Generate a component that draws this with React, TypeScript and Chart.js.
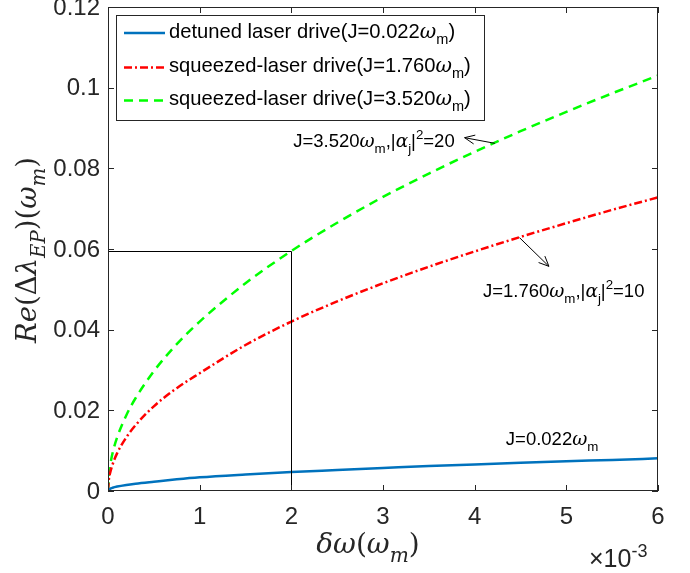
import React, { useEffect, useRef } from 'react';
import { Chart, registerables } from 'chart.js';
Chart.register(...registerables);

// δω in units of 1e-3 ω_m
const xVals = [0, 0.01, 0.02, 0.05, 0.1, 0.2, 0.3, 0.5, 0.75, 1, 1.5, 2, 2.5, 3, 3.5, 4, 4.5, 5, 5.5, 6];
const blueVals = [0, 0.0003, 0.0005, 0.0008, 0.0011, 0.0015, 0.0018, 0.0023, 0.0029, 0.0034, 0.0041, 0.0047, 0.0052, 0.0057, 0.0062, 0.0066, 0.0070, 0.0074, 0.0077, 0.0081];
const redVals = [0, 0.0030, 0.0042, 0.0066, 0.0094, 0.0133, 0.0163, 0.0210, 0.0255, 0.0292, 0.0362, 0.0420, 0.0470, 0.0515, 0.0556, 0.0594, 0.0630, 0.0664, 0.0697, 0.0728];
const greenVals = [0, 0.0042, 0.0059, 0.0094, 0.0133, 0.0188, 0.0230, 0.0297, 0.0364, 0.0420, 0.0515, 0.0595, 0.0665, 0.0729, 0.0787, 0.0841, 0.0892, 0.0940, 0.0986, 0.1030];

const xTicks = [0, 1, 2, 3, 4, 5, 6];
const xTickLabels = ['0', '1', '2', '3', '4', '5', '6'];
const yTicks = [0, 0.02, 0.04, 0.06, 0.08, 0.1, 0.12];
const yTickLabels = ['0', '0.02', '0.04', '0.06', '0.08', '0.1', '0.12'];

const legendNames = ['detuned laser drive(J=0.022', 'squeezed-laser drive(J=1.760', 'squeezed-laser drive(J=3.520'];
const colors = ['#0072BD', '#FF0000', '#00FF00'];

// guide lines to the marked point on the green curve
const markX = 2;
const markY = 0.0595;

type Seg = { t: string; f?: 'sans' | 'serif' | 'iserif'; s?: 'sub' | 'sup' };

const SANS = '"Liberation Sans", Arial, Helvetica, sans-serif';
const SERIF = '"DejaVu Serif", "Liberation Serif", serif';

function fontOf(seg: Seg, size: number) {
  const sz = seg.s ? size * 0.72 : size;
  if (seg.f === 'serif') return `${sz}px ${SERIF}`;
  if (seg.f === 'iserif') return `italic ${sz}px ${SERIF}`;
  return `${sz}px ${SANS}`;
}

function drawRich(ctx: CanvasRenderingContext2D, segs: Seg[], x: number, y: number, size: number, align: 'left' | 'center', color: string) {
  let w = 0;
  for (const s of segs) {
    ctx.font = fontOf(s, size);
    w += ctx.measureText(s.t).width;
  }
  let cx = align === 'center' ? x - w / 2 : x;
  ctx.textAlign = 'left';
  ctx.textBaseline = 'alphabetic';
  ctx.fillStyle = color;
  for (const s of segs) {
    ctx.font = fontOf(s, size);
    const dy = s.s === 'sub' ? size * 0.32 : s.s === 'sup' ? -size * 0.42 : 0;
    ctx.fillText(s.t, cx, y + dy);
    cx += ctx.measureText(s.t).width;
  }
}

function arrow(ctx: CanvasRenderingContext2D, x1: number, y1: number, x2: number, y2: number) {
  ctx.save();
  ctx.strokeStyle = '#000';
  ctx.lineWidth = 1;
  ctx.beginPath();
  ctx.moveTo(x1, y1);
  ctx.lineTo(x2, y2);
  const a = Math.atan2(y2 - y1, x2 - x1);
  const L = 11;
  const sp = 0.42;
  ctx.moveTo(x2 - L * Math.cos(a - sp), y2 - L * Math.sin(a - sp));
  ctx.lineTo(x2, y2);
  ctx.lineTo(x2 - L * Math.cos(a + sp), y2 - L * Math.sin(a + sp));
  ctx.stroke();
  ctx.restore();
}

const overlay = {
  id: 'overlay',
  afterDatasetsDraw(chart: any) {
    const ctx: CanvasRenderingContext2D = chart.ctx;
    const { left, right, top, bottom } = chart.chartArea;
    const xs = chart.scales.x;
    const ys = chart.scales.y;
    ctx.save();

    // guide lines
    ctx.strokeStyle = '#000';
    ctx.lineWidth = 1;
    const px = Math.round(xs.getPixelForValue(markX)) + 0.5;
    const py = Math.round(ys.getPixelForValue(markY)) + 0.5;
    ctx.beginPath();
    ctx.moveTo(left, py);
    ctx.lineTo(px, py);
    ctx.lineTo(px, bottom);
    ctx.stroke();

    // axes box
    ctx.strokeStyle = '#262626';
    ctx.lineWidth = 1;
    ctx.strokeRect(left + 0.5, top + 0.5, right - left - 1, bottom - top - 1);
    ctx.beginPath();
    const tl = 6;
    for (const v of xTicks) {
      const x = Math.round(xs.getPixelForValue(v)) + 0.5;
      ctx.moveTo(x, bottom);
      ctx.lineTo(x, bottom - tl);
      ctx.moveTo(x, top);
      ctx.lineTo(x, top + tl);
    }
    for (const v of yTicks) {
      const y = Math.round(ys.getPixelForValue(v)) + 0.5;
      ctx.moveTo(left, y);
      ctx.lineTo(left + tl, y);
      ctx.moveTo(right, y);
      ctx.lineTo(right - tl, y);
    }
    ctx.stroke();

    // tick labels
    ctx.fillStyle = '#262626';
    ctx.font = `24px ${SANS}`;
    ctx.textAlign = 'right';
    ctx.textBaseline = 'middle';
    yTicks.forEach((v, i) => {
      ctx.fillText(yTickLabels[i], left - 8, ys.getPixelForValue(v) + 1);
    });
    ctx.textAlign = 'center';
    ctx.textBaseline = 'middle';
    xTicks.forEach((v, i) => {
      ctx.fillText(xTickLabels[i], xs.getPixelForValue(v), bottom + 26);
    });

    // exponent
    drawRich(ctx, [{ t: '\u00d710', f: 'sans' }, { t: '-3', f: 'sans', s: 'sup' }], 589, 567, 25, 'left', '#262626');

    // axis titles
    drawRich(ctx, [
      { t: '\u03b4\u03c9', f: 'iserif' }, { t: '(', f: 'serif' }, { t: '\u03c9', f: 'iserif' }, { t: 'm', f: 'iserif', s: 'sub' }, { t: ')', f: 'serif' },
    ], 368, 553, 28, 'center', '#262626');

    ctx.save();
    ctx.translate(36, 250);
    ctx.rotate(-Math.PI / 2);
    drawRich(ctx, [
      { t: 'Re', f: 'iserif' }, { t: '(\u0394', f: 'serif' }, { t: '\u03bb', f: 'iserif' }, { t: 'EP', f: 'iserif', s: 'sub' },
      { t: ')(', f: 'serif' }, { t: '\u03c9', f: 'iserif' }, { t: 'm', f: 'iserif', s: 'sub' }, { t: ')', f: 'serif' },
    ], 0, 0, 27.5, 'center', '#262626');
    ctx.restore();

    // annotations
    const P = (x: number, y: number) => [xs.getPixelForValue(x), ys.getPixelForValue(y)];
    let [a1, b1] = P(4.22, 0.0862);
    let [a2, b2] = P(3.89, 0.0876);
    arrow(ctx, a1, b1, a2, b2);
    [a1, b1] = P(4.49, 0.0628);
    [a2, b2] = P(4.81, 0.0557);
    arrow(ctx, a1, b1, a2, b2);

    const [t1x, t1y] = P(2.02, 0.0853);
    drawRich(ctx, [
      { t: 'J=3.520' }, { t: '\u03c9', f: 'iserif' }, { t: 'm', s: 'sub' }, { t: ',|' }, { t: '\u03b1', f: 'iserif' }, { t: 'j', s: 'sub' }, { t: '|' }, { t: '2', s: 'sup' }, { t: '=20' },
    ], t1x, t1y, 18.5, 'left', '#000');
    const [t2x, t2y] = P(4.09, 0.0481);
    drawRich(ctx, [
      { t: 'J=1.760' }, { t: '\u03c9', f: 'iserif' }, { t: 'm', s: 'sub' }, { t: ',|' }, { t: '\u03b1', f: 'iserif' }, { t: 'j', s: 'sub' }, { t: '|' }, { t: '2', s: 'sup' }, { t: '=10' },
    ], t2x, t2y, 18.5, 'left', '#000');
    const [t3x, t3y] = P(4.34, 0.0114);
    drawRich(ctx, [{ t: 'J=0.022' }, { t: '\u03c9', f: 'iserif' }, { t: 'm', s: 'sub' }], t3x, t3y, 18.5, 'left', '#000');

    // legend
    const lx = 116, ly = 15, lw = 368, lh = 105;
    ctx.fillStyle = '#fff';
    ctx.fillRect(lx, ly, lw, lh);
    ctx.strokeStyle = '#262626';
    ctx.lineWidth = 1;
    ctx.strokeRect(lx + 0.5, ly + 0.5, lw, lh);
    const rowY = [33, 67.5, 100.5];
    const dashes = [[], [8, 3, 2, 3], [9, 6]];
    legendNames.forEach((name, i) => {
      ctx.save();
      ctx.strokeStyle = colors[i];
      ctx.lineWidth = 2.5;
      ctx.setLineDash(dashes[i]);
      ctx.beginPath();
      ctx.moveTo(124, rowY[i]);
      ctx.lineTo(165, rowY[i]);
      ctx.stroke();
      ctx.restore();
      drawRich(ctx, [{ t: name }, { t: '\u03c9', f: 'iserif' }, { t: 'm', s: 'sub' }, { t: ')' }], 169, rowY[i] + 4.5, 20.2, 'left', '#000');
    });

    ctx.restore();
  },
};

export default function App() {
  const ref = useRef<HTMLCanvasElement>(null);
  useEffect(() => {
    const pts = (vals: number[]) => xVals.map((x, i) => ({ x, y: vals[i] }));
    const chart = new Chart(ref.current!, {
      type: 'line',
      data: {
        datasets: [
          { data: pts(blueVals), borderColor: colors[0], borderWidth: 2.5, pointRadius: 0, cubicInterpolationMode: 'monotone' },
          { data: pts(redVals), borderColor: colors[1], borderWidth: 2.5, pointRadius: 0, borderDash: [8, 3, 2, 3], cubicInterpolationMode: 'monotone' },
          { data: pts(greenVals), borderColor: colors[2], borderWidth: 2.5, pointRadius: 0, borderDash: [9, 6], cubicInterpolationMode: 'monotone' },
        ],
      },
      options: {
        animation: false,
        responsive: false,
        layout: { padding: { top: 7, right: 32, left: 0, bottom: 0 } },
        plugins: { legend: { display: false }, tooltip: { enabled: false } },
        scales: {
          x: {
            type: 'linear', min: 0, max: 6,
            grid: { display: false, drawTicks: false }, border: { display: false },
            ticks: { display: false },
            afterFit: (s: any) => { s.height = 82; },
          },
          y: {
            type: 'linear', min: 0, max: 0.12,
            grid: { display: false, drawTicks: false }, border: { display: false },
            ticks: { display: false },
            afterFit: (s: any) => { s.width = 108; },
          },
        },
      },
      plugins: [overlay],
    } as any);
    return () => chart.destroy();
  }, []);
  return (
    <div style={{ position: 'absolute', left: 0, top: 0, width: 690, height: 573, background: '#fff' }}>
      <canvas ref={ref} width={690} height={573} />
    </div>
  );
}
